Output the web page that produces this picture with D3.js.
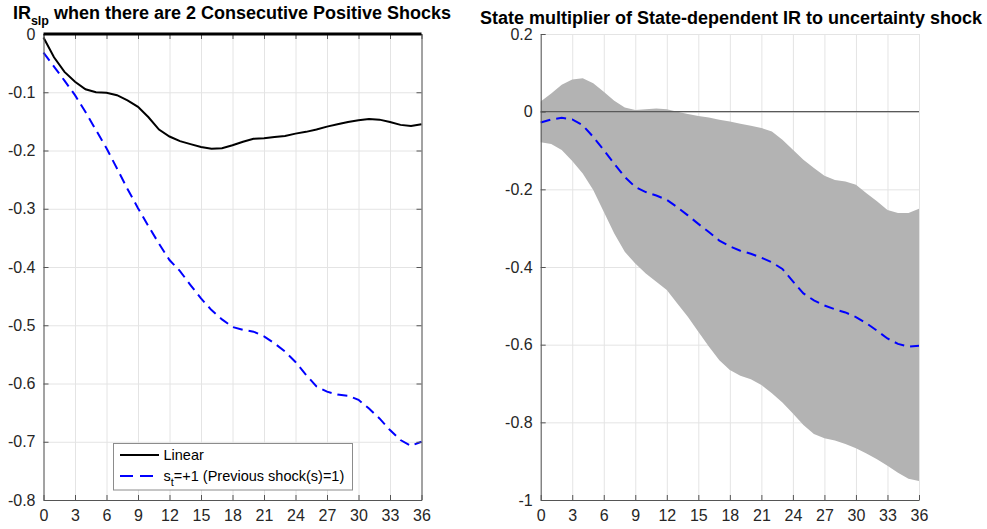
<!DOCTYPE html>
<html><head><meta charset="utf-8">
<script src="https://cdn.jsdelivr.net/npm/d3@7"></script>
<style>body{margin:0;background:#fff} text{font-family:"Liberation Sans",Arial,Helvetica,sans-serif}</style>
</head><body><svg id="c" width="987" height="529"></svg>
<script>
// ---------- data ----------
const horizon = [0,1,2,3,4,5,6,7,8,9,10,11,12,13,14,15,16,17,18,19,20,21,22,23,24,25,26,27,28,29,30,31,32,33,34,35,36];
const xTicks = [0,3,6,9,12,15,18,21,24,27,30,33,36];

// left panel
const linearIR = [-0.006,-0.040,-0.065,-0.082,-0.095,-0.100,-0.101,-0.105,-0.114,-0.125,-0.143,-0.164,-0.176,-0.184,-0.189,-0.194,-0.197,-0.196,-0.191,-0.185,-0.180,-0.179,-0.177,-0.175,-0.171,-0.168,-0.164,-0.159,-0.155,-0.151,-0.148,-0.146,-0.147,-0.151,-0.156,-0.158,-0.155];
const stateIR = [-0.032,-0.056,-0.080,-0.105,-0.134,-0.165,-0.196,-0.231,-0.266,-0.299,-0.330,-0.360,-0.388,-0.407,-0.431,-0.454,-0.474,-0.490,-0.503,-0.508,-0.511,-0.519,-0.531,-0.545,-0.563,-0.585,-0.605,-0.614,-0.619,-0.621,-0.628,-0.643,-0.660,-0.680,-0.697,-0.707,-0.700];
const zeroLine = [0,0];
const leftYTicks = [0,-0.1,-0.2,-0.3,-0.4,-0.5,-0.6,-0.7,-0.8];
const leftYLabels = ["0","-0.1","-0.2","-0.3","-0.4","-0.5","-0.6","-0.7","-0.8"];
const legendLabels = ["Linear","s","t","=+1 (Previous shock(s)=1)"];

// right panel
const multMid = [-0.028,-0.020,-0.016,-0.020,-0.035,-0.065,-0.099,-0.134,-0.168,-0.194,-0.207,-0.216,-0.227,-0.246,-0.267,-0.289,-0.310,-0.332,-0.347,-0.358,-0.366,-0.376,-0.388,-0.405,-0.437,-0.468,-0.486,-0.499,-0.509,-0.517,-0.529,-0.545,-0.564,-0.584,-0.598,-0.605,-0.603];
const multUpper = [0.026,0.047,0.069,0.083,0.086,0.073,0.051,0.028,0.011,0.004,0.006,0.008,0.006,0.000,-0.006,-0.011,-0.015,-0.021,-0.025,-0.031,-0.036,-0.042,-0.051,-0.072,-0.098,-0.124,-0.145,-0.165,-0.176,-0.180,-0.188,-0.210,-0.231,-0.253,-0.261,-0.261,-0.250];
const multLower = [-0.079,-0.083,-0.099,-0.127,-0.159,-0.202,-0.258,-0.314,-0.361,-0.391,-0.417,-0.438,-0.459,-0.494,-0.528,-0.567,-0.605,-0.640,-0.665,-0.680,-0.689,-0.704,-0.725,-0.749,-0.777,-0.807,-0.830,-0.841,-0.847,-0.856,-0.867,-0.880,-0.895,-0.912,-0.930,-0.945,-0.951];
const rightYTicks = [0.2,0,-0.2,-0.4,-0.6,-0.8,-1];
const rightYLabels = ["0.2","0","-0.2","-0.4","-0.6","-0.8","-1"];

const leftTitle = ["IR","slp"," when there are 2 Consecutive Positive Shocks"];
const rightTitle = "State multiplier of State-dependent IR to uncertainty shock";

// ---------- drawing ----------
const svg = d3.select("#c");
const gridCol = "#e4e4e4", axCol = "#555", txtCol = "#262626";
const tickFont = "16px";

function panel(x0, x1, y0, y1, yDom, yTicks, yLabels, box) {
  const x = d3.scaleLinear().domain([0,36]).range([x0,x1]);
  const y = d3.scaleLinear().domain(yDom).range([y0,y1]);
  const g = svg.append("g");
  g.append("g").attr("transform",`translate(0,${y1})`)
    .call(d3.axisBottom(x).tickValues(xTicks).tickSize(-(y1-y0)).tickFormat(""))
    .call(a=>{a.select(".domain").remove(); a.selectAll("line").attr("stroke",gridCol);});
  g.append("g").attr("transform",`translate(${x0},0)`)
    .call(d3.axisLeft(y).tickValues(yTicks).tickSize(-(x1-x0)).tickFormat(""))
    .call(a=>{a.select(".domain").remove(); a.selectAll("line").attr("stroke",gridCol);});
  const layer = g.append("g");
  const axes = g.append("g");
  axes.append("g").attr("transform",`translate(0,${y1})`)
    .call(d3.axisBottom(x).tickValues(xTicks).tickSize(-5).tickSizeOuter(0).tickPadding(10).tickFormat(d=>String(d)))
    .call(a=>{a.select(".domain").attr("stroke",axCol); a.selectAll("line").attr("stroke",axCol);
      a.selectAll("text").attr("fill",txtCol).style("font-size",tickFont).style("font-family",'"Liberation Sans",Arial,sans-serif');});
  axes.append("g").attr("transform",`translate(${x0},0)`)
    .call(d3.axisLeft(y).tickValues(yTicks).tickSize(-5).tickSizeOuter(0).tickPadding(8).tickFormat((d,i)=>yLabels[i]))
    .call(a=>{a.select(".domain").attr("stroke",axCol); a.selectAll("line").attr("stroke",axCol);
      a.selectAll("text").attr("fill",txtCol).style("font-size",tickFont).style("font-family",'"Liberation Sans",Arial,sans-serif');});
  if (box) {
    axes.append("g").attr("transform",`translate(${x1},0)`)
      .call(d3.axisRight(y).tickValues(yTicks).tickSize(-5).tickSizeOuter(0).tickFormat(""))
      .call(a=>{a.select(".domain").attr("stroke",axCol); a.selectAll("line").attr("stroke",axCol);});
    axes.append("g").attr("transform",`translate(0,${y0})`)
      .call(d3.axisTop(x).tickValues(xTicks).tickSize(-5).tickSizeOuter(0).tickFormat(""))
      .call(a=>{a.select(".domain").attr("stroke",axCol); a.selectAll("line").attr("stroke",axCol);});
  }
  return {x,y,layer,axes};
}

// ---- left panel ----
const L = panel(43.5, 421.5, 34, 500, [0,-0.8], leftYTicks, leftYLabels, true);
const lineL = d3.line().x((d,i)=>L.x(horizon[i])).y(d=>L.y(d));
L.axes.append("path").attr("d", d3.line().x((d,i)=>L.x(i===0?horizon[0]:horizon[horizon.length-1])).y(d=>L.y(d))(zeroLine))
  .attr("stroke","#000").attr("stroke-width",3).attr("fill","none");
L.layer.append("path").attr("d", lineL(linearIR)).attr("stroke","#000").attr("stroke-width",2).attr("fill","none");
L.layer.append("path").attr("d", lineL(stateIR)).attr("stroke","#0000ff").attr("stroke-width",2)
  .attr("stroke-dasharray","10,6").attr("fill","none");

// legend
const lg = svg.append("g");
lg.append("rect").attr("x",113.5).attr("y",443.5).attr("width",239).attr("height",46.5)
  .attr("fill","#fff").attr("stroke","#8c8c8c").attr("stroke-width",1);
lg.append("line").attr("x1",120).attr("x2",159).attr("y1",455).attr("y2",455).attr("stroke","#000").attr("stroke-width",2);
lg.append("line").attr("x1",120).attr("x2",159).attr("y1",476).attr("y2",476).attr("stroke","#0000ff").attr("stroke-width",2).attr("stroke-dasharray","13,7");
lg.append("text").attr("x",163.5).attr("y",460).attr("fill","#000").style("font-size","14.5px").text(legendLabels[0]);
const t2 = lg.append("text").attr("x",163.5).attr("y",480.5).attr("fill","#000").style("font-size","14.5px");
t2.append("tspan").text(legendLabels[1]);
t2.append("tspan").attr("dy",5).style("font-size","11px").text(legendLabels[2]);
t2.append("tspan").attr("dy",-5).text(legendLabels[3]);

// left title
const tl = svg.append("text").attr("x",232).attr("y",18.5).attr("text-anchor","middle")
  .attr("fill","#000").style("font-size","18px").style("font-weight","bold");
tl.append("tspan").text(leftTitle[0]);
tl.append("tspan").attr("dy",6).style("font-size","12.5px").text(leftTitle[1]);
tl.append("tspan").attr("dy",-6).text(leftTitle[2]);

// ---- right panel ----
const R = panel(540.7, 919, 34, 500, [0.2,-1], rightYTicks, rightYLabels, false);
const area = d3.area().x((d,i)=>R.x(horizon[i])).y0((d,i)=>R.y(multLower[i])).y1(d=>R.y(d));
R.layer.append("path").attr("d", area(multUpper)).attr("fill","#b3b3b3");
R.layer.append("line").attr("x1",R.x(0)).attr("x2",R.x(36)).attr("y1",R.y(0)).attr("y2",R.y(0))
  .attr("stroke","#595959").attr("stroke-width",1.2);
R.layer.append("path").attr("d", d3.line().x((d,i)=>R.x(horizon[i])).y(d=>R.y(d))(multMid))
  .attr("stroke","#0000ff").attr("stroke-width",2).attr("stroke-dasharray","10,6").attr("fill","none");

svg.append("text").attr("x",731).attr("y",23.5).attr("text-anchor","middle").attr("fill","#000")
  .style("font-size","18px").style("font-weight","bold").text(rightTitle);
</script></body></html>
